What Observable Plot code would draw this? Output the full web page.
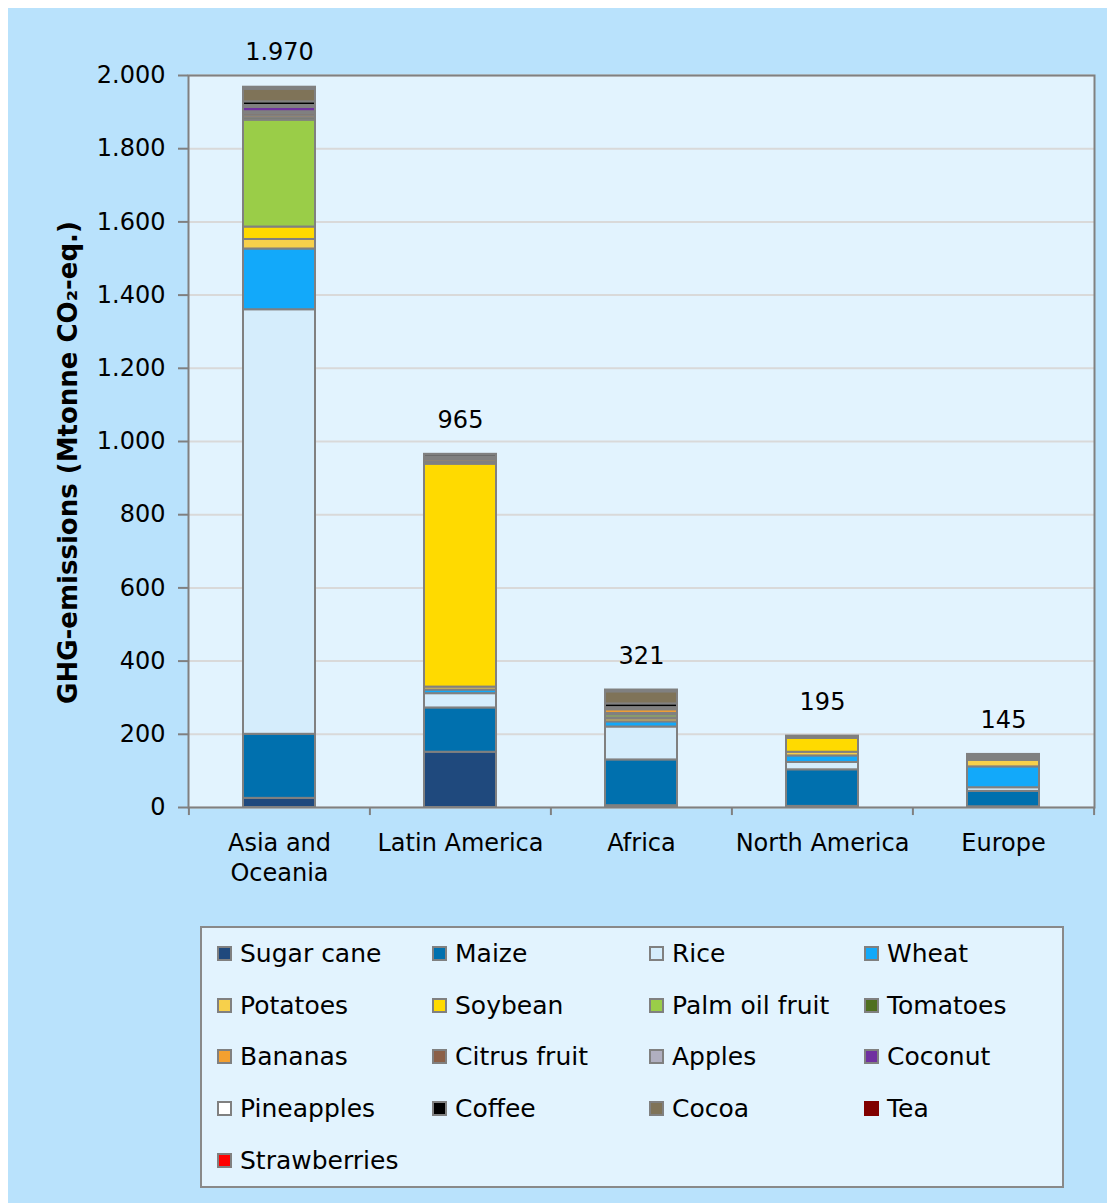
<!DOCTYPE html>
<html>
<head>
<meta charset="utf-8">
<script src="https://cdn.jsdelivr.net/npm/d3@7"></script>
<script src="https://cdn.jsdelivr.net/npm/@observablehq/plot@0.6"></script>
<style>
  html, body { margin: 0; padding: 0; background: #ffffff; }
  #wrap { position: absolute; left: 8px; top: 8px; width: 1099px; height: 1195px; background: #B9E2FC; font-family: "DejaVu Sans", sans-serif; }
  #chart { position: absolute; left: 0; top: 0; }
  #legend { position: absolute; left: 192px; top: 918px; width: 864px; height: 262px; box-sizing: border-box;
    border: 2px solid #898989; background: #E2F3FE; display: grid;
    grid-template-columns: 215px 217px 215px 1fr; grid-auto-rows: 51.6px; padding-left: 15px; }
  .item { display: flex; align-items: center; font-size: 25px; color: #000; white-space: nowrap; }
  .sw { width: 15px; height: 15px; box-sizing: border-box; border: 2px solid #808080; margin-right: 8px; flex: none; }
</style>
</head>
<body>
<div id="wrap">
  <div id="chart"></div>
  <div id="legend"></div>
</div>
<script>
const regions = ["Asia and Oceania", "Latin America", "Africa", "North America", "Europe"];
const crops = ["Sugar cane", "Maize", "Rice", "Wheat", "Potatoes", "Soybean", "Palm oil fruit", "Tomatoes",
  "Bananas", "Citrus fruit", "Apples", "Coconut", "Pineapples", "Coffee", "Cocoa", "Tea", "Strawberries"];
const cropColors = ["#1F497D", "#0070AE", "#D5EDFC", "#12A9FA", "#F7D04B", "#FFDA00", "#9ACD48", "#4F6F1F",
  "#F4A030", "#8B6048", "#B0AFC0", "#7030A0", "#FFFFFF", "#000000", "#7F7358", "#800000", "#FF0000"];

// Values per region, in crop order (Mtonne CO2-eq.)
const asiaOceania  = [25, 175, 1160, 166, 26, 34, 292, 6, 6, 6, 5, 12, 5, 10, 34, 4, 2];
const latinAmerica = [151, 121, 39, 10, 8, 609, 4, 2, 6, 5, 1, 1, 1, 6, 1, 0, 0];
const africa       = [5, 125, 90, 14, 8, 3, 8, 4, 10, 2, 1, 2, 1, 10, 33, 5, 0];
const northAmerica = [3, 100, 20, 18, 10, 38, 0, 2, 0, 2, 1, 0, 0, 0, 0, 0, 1];
const europe       = [2, 42, 10, 57, 18, 1, 0, 4, 0, 2, 5, 0, 0, 0, 0, 0, 4];
const totals = [1970, 965, 321, 195, 145];
const yTicks = [0, 200, 400, 600, 800, 1000, 1200, 1400, 1600, 1800, 2000];
const yTitle = "GHG-emissions (Mtonne CO\u2082-eq.)";

const series = [asiaOceania, latinAmerica, africa, northAmerica, europe];
const data = [];
regions.forEach((r, i) => crops.forEach((c, j) => {
  if (series[i][j] > 0) data.push({region: r, crop: c, value: series[i][j]});
}));
const totalData = regions.map((r, i) => ({region: r, total: totals[i]}));

const fmt = d => d >= 1000 ? Math.floor(d / 1000) + "." + String(d % 1000).padStart(3, "0") : String(d);
const halfStep = (1099 - 180 - 13) / regions.length / 2;

const chart = Plot.plot({
  width: 1099,
  height: 900,
  marginLeft: 180,
  marginRight: 13,
  marginTop: 67,
  marginBottom: 101,
  style: "background: transparent; font-family: 'DejaVu Sans', sans-serif; font-size: 24px; overflow: visible; color: #000;",
  x: {domain: regions, paddingInner: 0.6, paddingOuter: 0.3, axis: null},
  y: {domain: [0, 2000], axis: null},
  color: {domain: crops, range: cropColors},
  marks: [
    Plot.frame({fill: "#E2F3FE", stroke: "none"}),
    Plot.gridY(yTicks, {stroke: "#D9D9D9", strokeWidth: 2, strokeOpacity: 1}),
    Plot.barY(data, {x: "region", y: "value", fill: "crop", order: crops, stroke: "#808080", strokeWidth: 2}),
    Plot.frame({stroke: "#808080", strokeWidth: 2}),
    Plot.axisY(yTicks, {tickSize: 10, tickPadding: 13, tickFormat: fmt, fontSize: 24, stroke: "#808080", strokeWidth: 2, label: null}),
    Plot.ruleX(regions, {x: d => d, y1: 0, y2: -22, dx: -halfStep, stroke: "#808080", strokeWidth: 2}),
    Plot.ruleX(regions.slice(-1), {x: d => d, y1: 0, y2: -22, dx: halfStep, stroke: "#808080", strokeWidth: 2}),
    Plot.axisX({tickSize: 0, tickPadding: 22, lineHeight: 1.25, fontSize: 24, label: null,
      tickFormat: d => d === "Asia and Oceania" ? "Asia and\nOceania" : d}),
    Plot.text(totalData, {x: "region", y: "total", text: d => fmt(d.total), dy: -34, fontSize: 24, fill: "#000"}),
    Plot.text([yTitle], {frameAnchor: "left", textAnchor: "middle", rotate: -90, dx: -120, dy: 21, fontWeight: "bold", fontSize: 26, fill: "#000"})
  ]
});
document.getElementById("chart").appendChild(chart);

const legend = document.getElementById("legend");
crops.forEach((c, j) => {
  const item = document.createElement("div");
  item.className = "item";
  const sw = document.createElement("span");
  sw.className = "sw";
  sw.style.background = cropColors[j];
  if (c === "Tea") sw.style.borderColor = cropColors[j];
  item.appendChild(sw);
  item.appendChild(document.createTextNode(c));
  legend.appendChild(item);
});
</script>
</body>
</html>
